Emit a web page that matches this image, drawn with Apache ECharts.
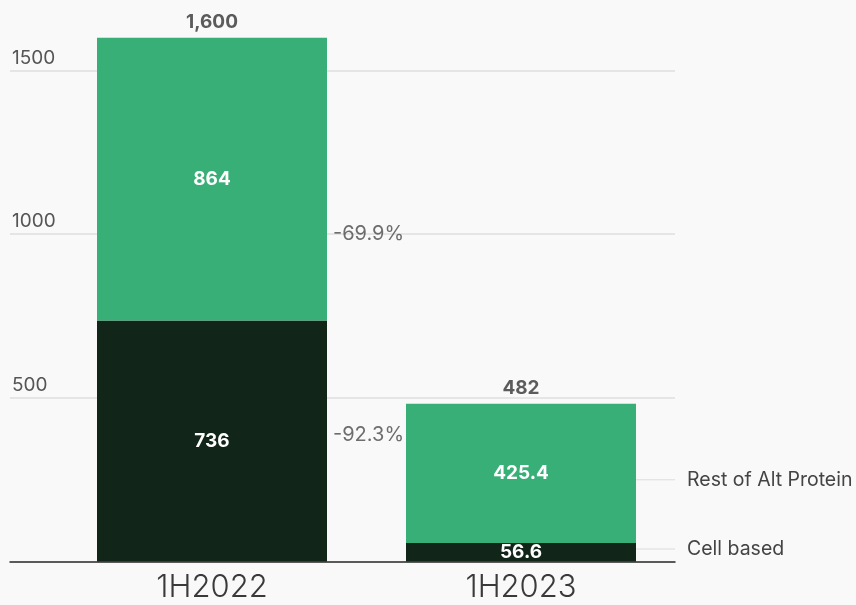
<!DOCTYPE html>
<html><head><meta charset="utf-8">
<script src="https://cdn.jsdelivr.net/npm/echarts@6/dist/echarts.min.js"></script>
<style>html,body{margin:0;padding:0;background:#f9f9f9}#c{width:856px;height:605px}</style>
</head><body><div id="c"></div>
<script>
const categories = ['1H2022', '1H2023'];
const cellBased = [736, 56.6];
const restAlt = [864, 425.4];
const totals = [1600, 482];
const totalLabels = ['1,600', '482'];
const yMin = 0, yMax = 1500, yStep = 500;
const changeLabels = ['-69.9%', '-92.3%'];
const changeAnchors = [1000, 387];
const seriesNames = ['Cell based', 'Rest of Alt Protein'];
const seriesAnchors = [38, 250];

const FONT = 'Inter, Lato, "DejaVu Sans", sans-serif';
const GREEN = '#38af77';
const DARK = '#112519';

const chart = echarts.init(document.getElementById('c'), null, {renderer: 'canvas'});

function endLabel(name, anchor) {
  return {
    symbol: 'circle', symbolSize: 0, silent: true,
    data: [{
      coord: [categories[1], anchor],
      label: {
        show: true, position: 'right', distance: 0, offset: [115, 0],
        formatter: '{l|}{t|' + name + '}',
        rich: {
          l: {width: 39, height: 1, backgroundColor: '#dcdcdc'},
          t: {fontFamily: FONT, fontSize: 19.5, color: '#444', padding: [0, 0, 0, 12]}
        }
      }
    }]
  };
}

chart.setOption({
  backgroundColor: '#f9f9f9',
  animation: false,
  grid: [
    {left: 10, right: 181, top: 70.5, bottom: 43.5},
    {left: 57.5, right: 180.5, top: 70.5, bottom: 43.5}
  ],
  xAxis: [
    {gridIndex: 0, type: 'category', data: [''],
     axisLine: {show: true, lineStyle: {color: '#2d2d2d', width: 1.5}},
     axisTick: {show: false}, axisLabel: {show: false}},
    {gridIndex: 1, type: 'category', data: categories,
     axisLine: {show: false}, axisTick: {show: false},
     axisLabel: {fontFamily: FONT, fontSize: 31, fontWeight: 300, color: '#3a3a3a', margin: 11}}
  ],
  yAxis: [
    {gridIndex: 0, type: 'value', min: yMin, max: yMax, interval: yStep,
     axisLine: {show: false}, axisTick: {show: false},
     splitLine: {lineStyle: {color: '#dedede', width: 1.5}},
     axisLabel: {inside: true, margin: 2, verticalAlign: 'bottom', showMinLabel: false,
       formatter: v => String(v),
       fontFamily: FONT, fontSize: 19, color: '#555', padding: [0, 0, 3, 0]}},
    {gridIndex: 1, type: 'value', min: yMin, max: yMax, interval: yStep, show: false,
     splitLine: {show: false}}
  ],
  series: [
    {
      name: seriesNames[0], type: 'bar', stack: 'total', xAxisIndex: 1, yAxisIndex: 1,
      data: cellBased, barWidth: 230, clip: false,
      itemStyle: {color: DARK},
      label: {show: true, position: 'inside', color: '#fff', fontFamily: FONT, fontWeight: 'bold', fontSize: 19},
      markPoint: endLabel(seriesNames[0], seriesAnchors[0])
    },
    {
      name: seriesNames[1], type: 'bar', stack: 'total', xAxisIndex: 1, yAxisIndex: 1,
      data: restAlt, barWidth: 230, clip: false,
      itemStyle: {color: GREEN},
      label: {show: true, position: 'inside', color: '#fff', fontFamily: FONT, fontWeight: 'bold', fontSize: 19},
      markPoint: endLabel(seriesNames[1], seriesAnchors[1])
    },
    {
      name: 'total', type: 'scatter', xAxisIndex: 1, yAxisIndex: 1,
      data: totals, symbolSize: 0, clip: false, silent: true,
      label: {show: true, position: 'top', distance: 6,
        formatter: p => totalLabels[p.dataIndex],
        color: '#333', fontFamily: FONT, fontWeight: 'bold', fontSize: 19}
    },
    {
      name: 'change', type: 'scatter', xAxisIndex: 1, yAxisIndex: 1,
      data: changeAnchors.map(v => [categories[0], v]), symbolSize: 0, clip: false, silent: true,
      label: {show: true, position: 'right', distance: 0, offset: [121, 0],
        formatter: p => changeLabels[p.dataIndex],
        color: '#4a4a4a', fontFamily: FONT, fontSize: 20}
    }
  ]
});
</script></body></html>
